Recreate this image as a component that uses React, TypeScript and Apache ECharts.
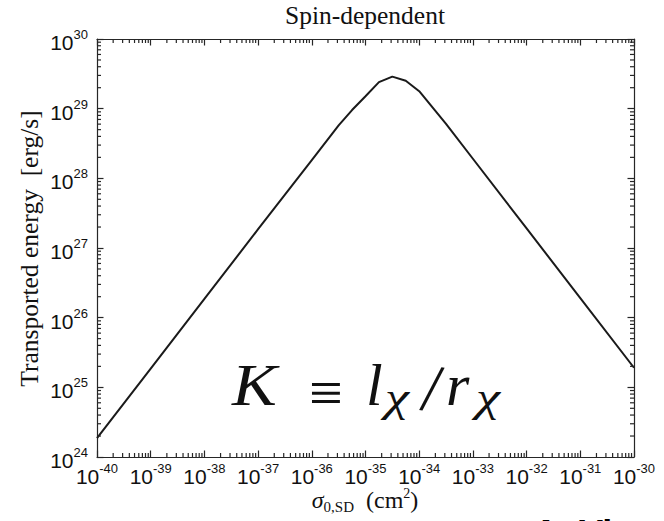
import React, { useEffect, useRef } from 'react';
import * as echarts from 'echarts';

// Cross-section sigma_0,SD (cm^2) and transported energy (erg/s)
const sigmaCm2 = [
  1e-40, 1e-39, 1e-38, 1e-37, 1e-36, 3.16e-36, 5.62e-36, 1e-35, 1.78e-35,
  3.16e-35, 5.62e-35, 1e-34, 3.16e-34, 1e-33, 1e-32, 1e-31, 1e-30,
];
const energyErgPerS = [
  1.86e24, 1.86e25, 1.86e26, 1.86e27, 1.82e28, 5.75e28, 9.55e28, 1.51e29, 2.4e29,
  2.88e29, 2.51e29, 1.78e29, 6.03e28, 1.91e28, 1.91e27, 1.91e26, 1.91e25,
];
const xTickExponents = [-40, -39, -38, -37, -36, -35, -34, -33, -32, -31, -30];
const yTickExponents = [24, 25, 26, 27, 28, 29, 30];
const minorMultipliers = [2, 3, 4, 5, 6, 7, 8, 9];
const titleText = 'Spin-dependent';
const yAxisTitle = 'Transported energy  [erg/s]';

function minorValues(exps: number[]): number[] {
  const out: number[] = [];
  for (let i = 0; i < exps.length - 1; i++) {
    for (const k of minorMultipliers) out.push(k * Math.pow(10, exps[i]));
  }
  return out;
}

const SERIF = "'Liberation Serif', 'Times New Roman', serif";
const SANS = "'Liberation Sans', Arial, sans-serif";
const axisColor = '#262626';
const frameLine = { color: axisColor, width: 1.2 };
const MINOR_LEN = 4;

function buildAxes(dim: 'x' | 'y') {
  const exps = dim === 'x' ? xTickExponents : yTickExponents;
  const min = exps[0];
  const max = exps[exps.length - 1];
  const positions = dim === 'x' ? ['bottom', 'top'] : ['left', 'right'];
  const labelRich =
    dim === 'x'
      ? {
          b: { fontSize: 21, lineHeight: 21, fontFamily: SANS, color: '#111', padding: [4, 0, 0, 0] },
          s: { fontSize: 13, lineHeight: 13, fontFamily: SANS, color: '#111', padding: [0, 0, 12, 0] },
        }
      : {
          b: { fontSize: 21, lineHeight: 21, fontFamily: SANS, color: '#111', padding: [7, 0, 0, 0] },
          s: { fontSize: 13, lineHeight: 13, fontFamily: SANS, color: '#111', padding: [3, 0, 12, 0] },
        };
  return positions.map((pos, pi) => ({
    type: 'value',
    position: pos,
    min,
    max,
    interval: 1,
    axisLine: { show: true, onZero: false, lineStyle: frameLine },
    axisTick: { show: true, inside: true, length: 6.5, lineStyle: frameLine },
    axisLabel: {
      show: pi === 0,
      margin: dim === 'x' ? 7 : 9,
      formatter: (v: number) => `{b|10}{s|${Math.round(v)}}`,
      rich: labelRich,
    },
    splitLine: { show: false },
  }));
}

function txt(x: number, y: number, text: string, font: string, extra: any = {}) {
  const { style, align, ...rest } = extra;
  return {
    type: 'text',
    x,
    y,
    z: 100,
    ...rest,
    style: {
      text,
      font,
      fill: '#111',
      textAlign: align || 'left',
      align: align || 'left',
      textVerticalAlign: 'middle',
      verticalAlign: 'middle',
      ...(style || {}),
    },
  };
}

export default function App() {
  const ref = useRef<HTMLDivElement>(null);
  useEffect(() => {
    if (!ref.current) return;
    const chart = echarts.init(ref.current, undefined, { renderer: 'svg' });
    const data = sigmaCm2.map((s, i) => [s, energyErgPerS[i]]);
    const minorX = minorValues(xTickExponents);
    const minorY = minorValues(yTickExponents);
    const tickStyle = { stroke: axisColor, lineWidth: 1.2 };
    chart.setOption({
      animation: false,
      backgroundColor: '#fff',
      grid: { left: 97, right: 30, top: 39, bottom: 64 },
      xAxis: [
        { type: 'log', logBase: 10, min: 1e-40, max: 1e-30, show: false },
        ...buildAxes('x'),
      ],
      yAxis: [
        { type: 'log', logBase: 10, min: 1e24, max: 1e30, show: false },
        ...buildAxes('y'),
      ],
      series: [
        {
          type: 'line',
          xAxisIndex: 0,
          yAxisIndex: 0,
          data,
          showSymbol: false,
          smooth: false,
          lineStyle: { color: '#1a1a1a', width: 2 },
          z: 3,
        },
        {
          type: 'custom',
          xAxisIndex: 0,
          yAxisIndex: 0,
          coordinateSystem: 'cartesian2d',
          clip: false,
          silent: true,
          z: 5,
          data: minorX.map((v) => [v, 1e27]),
          encode: { x: 0, y: 1 },
          renderItem: (params: any, api: any) => {
            const cs = params.coordSys;
            const px = api.coord([api.value(0), api.value(1)])[0];
            const bottom = cs.y + cs.height;
            return {
              type: 'group',
              children: [
                { type: 'line', shape: { x1: px, y1: bottom, x2: px, y2: bottom - MINOR_LEN }, style: tickStyle },
                { type: 'line', shape: { x1: px, y1: cs.y, x2: px, y2: cs.y + MINOR_LEN }, style: tickStyle },
              ],
            };
          },
        },
        {
          type: 'custom',
          xAxisIndex: 0,
          yAxisIndex: 0,
          coordinateSystem: 'cartesian2d',
          clip: false,
          silent: true,
          z: 5,
          data: minorY.map((v) => [1e-35, v]),
          encode: { x: 0, y: 1 },
          renderItem: (params: any, api: any) => {
            const cs = params.coordSys;
            const py = api.coord([api.value(0), api.value(1)])[1];
            const right = cs.x + cs.width;
            return {
              type: 'group',
              children: [
                { type: 'line', shape: { x1: cs.x, y1: py, x2: cs.x + MINOR_LEN, y2: py }, style: tickStyle },
                { type: 'line', shape: { x1: right, y1: py, x2: right - MINOR_LEN, y2: py }, style: tickStyle },
              ],
            };
          },
        },
      ],
      graphic: [
        txt(365, 15.5, titleText, `25.5px ${SERIF}`, { align: 'center' }),
        txt(29.5, 248.5, yAxisTitle, `25.5px ${SERIF}`, { align: 'center', rotation: Math.PI / 2 }),
        {
          type: 'text',
          x: 365,
          y: 499.7,
          z: 100,
          style: {
            text: '{i|σ}{sub|0,SD}{n|  (cm}{sup|2}{n|)}',
            textAlign: 'center',
            align: 'center',
            textVerticalAlign: 'middle',
            verticalAlign: 'middle',
            fill: '#111',
            rich: {
              i: { fontSize: 24, lineHeight: 24, fontFamily: SERIF, fontStyle: 'italic', padding: [6, 0, 6, 0], fill: '#111' },
              n: { fontSize: 24, lineHeight: 24, fontFamily: SERIF, padding: [6, 0, 6, 0], fill: '#111' },
              sub: { fontSize: 15, lineHeight: 15, fontFamily: SERIF, padding: [18, 0, 3, 0], fill: '#111' },
              sup: { fontSize: 14, lineHeight: 14, fontFamily: SERIF, padding: [5, 0, 17, 0], fill: '#111' },
            },
          },
        },
        // K ≡ l_χ / r_χ
        txt(232, 384.7, 'K', `italic 60px ${SERIF}`, { scaleX: 1.12 }),
        txt(326, 393, '≡', `60px ${SERIF}`, { align: 'center' }),
        txt(366, 384.7, 'l', `italic 60px ${SERIF}`),
        txt(385, 397, 'χ', `italic 42px ${SERIF}`, { scaleX: 1.3 }),
        txt(432, 388, '/', `68px ${SERIF}`, { align: 'center', rotation: -0.15 }),
        txt(446, 384.7, 'r', `italic 60px ${SERIF}`),
        txt(476, 397, 'χ', `italic 42px ${SERIF}`, { scaleX: 1.3 }),
        // cut-off caption at bottom right
        txt(533, 533, 'A. Vi', `bold 36px ${SANS}`, { style: { fill: '#000' } }),
      ],
    });
    return () => chart.dispose();
  }, []);
  return (
    <div
      ref={ref}
      style={{ position: 'fixed', left: 0, top: 0, width: 664, height: 521, background: '#fff' }}
    />
  );
}
